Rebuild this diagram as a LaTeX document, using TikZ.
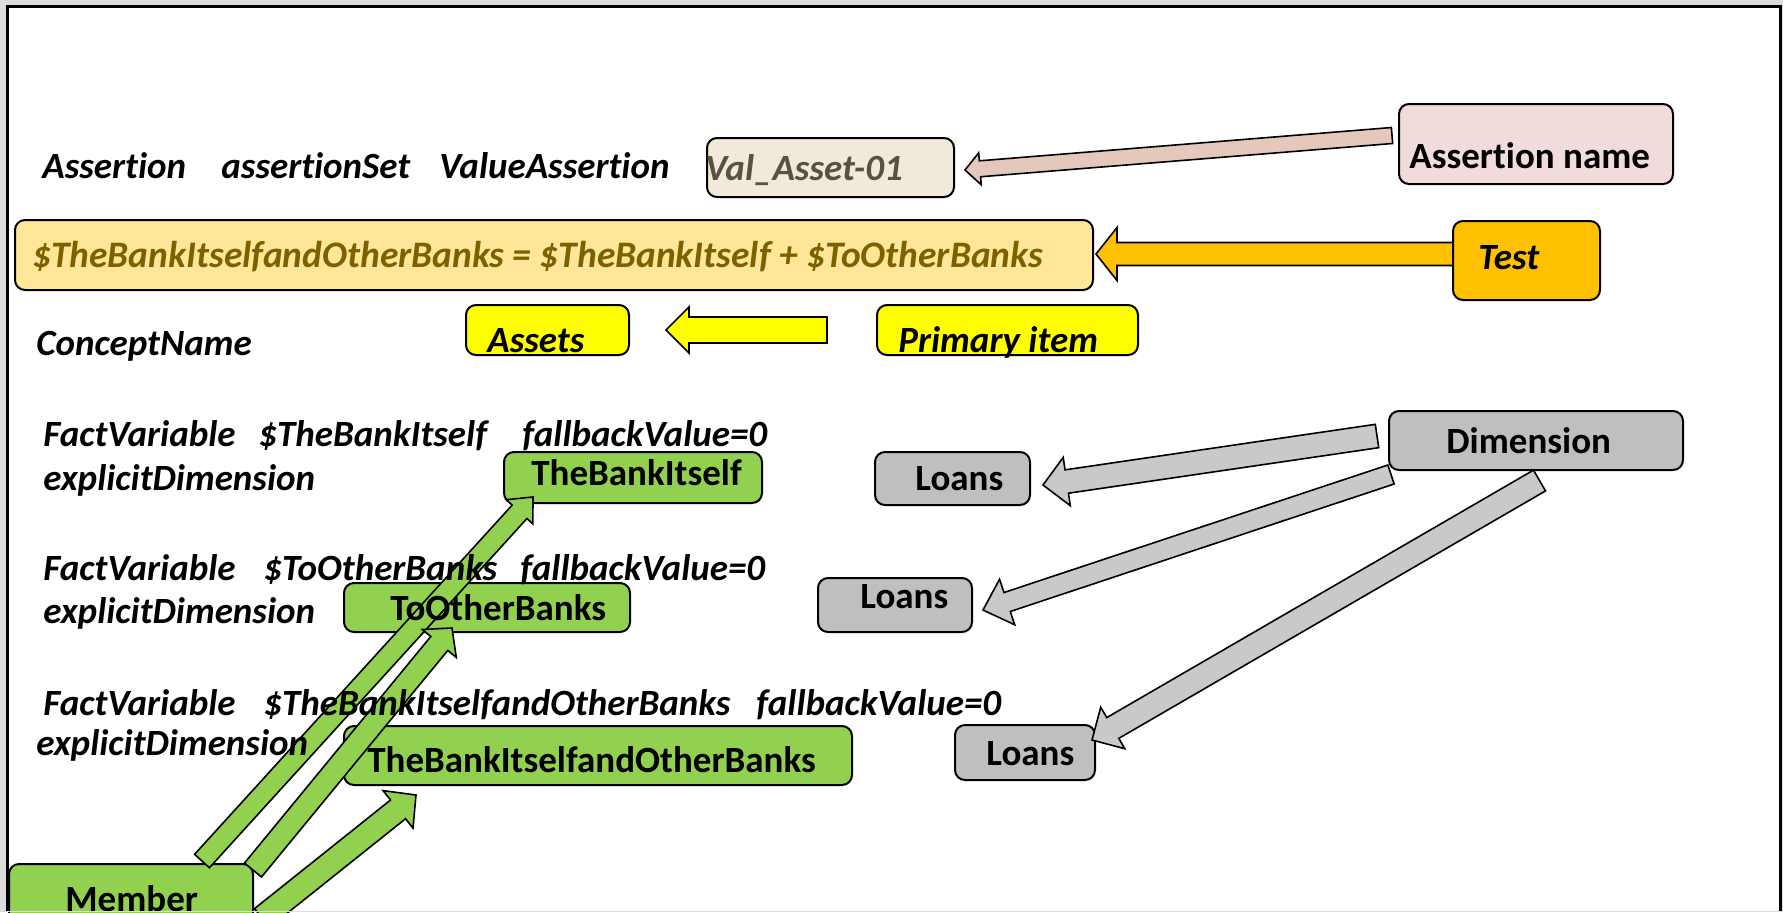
\documentclass[tikz,border=0pt]{standalone}
\usepackage{fontspec}
\setmainfont{Carlito}[RawFeature={-liga;-clig;-dlig;-calt;-hlig}]
\usetikzlibrary{calc,fit}
\definecolor{bgray}{HTML}{DCDCDC}
\definecolor{anfill}{HTML}{F2DCDB}
\definecolor{anarrow}{HTML}{E4C8BC}
\definecolor{valfill}{HTML}{F1E9DA}
\definecolor{valtext}{HTML}{5A5240}
\definecolor{formfill}{HTML}{FFE699}
\definecolor{formtext}{HTML}{7F6000}
\definecolor{testfill}{HTML}{FFC000}
\definecolor{yel}{HTML}{FFFF00}
\definecolor{grn}{HTML}{92D050}
\definecolor{gbox}{HTML}{BFBFBF}
\definecolor{garrow}{HTML}{C9C9C9}
\newcommand\blockarrow[6]{%
  \coordinate (bh) at ($(#2)!#5!(#1)$);
  \draw[#6] ($(#1)!#3!90:(#2)$) -- ($(bh)!#3!90:(#2)$) -- ($(bh)!#4!90:(#2)$) -- (#2)
    -- ($(bh)!#4!-90:(#2)$) -- ($(bh)!#3!-90:(#2)$) -- ($(#1)!#3!-90:(#2)$) -- cycle;}
\newcommand\ti{t\kern0pt i}
\tikzset{
  lbl/.style={anchor=base west, inner sep=0, font=\bfseries\itshape\fontsize{18.5}{22}\selectfont},
  blbl/.style={anchor=base west, inner sep=0, font=\bfseries\fontsize{18.5}{22}\selectfont},
  box/.style={draw=black, line width=1pt, rounded corners=5pt, inner sep=0},
  arr/.style={draw=black, line width=0.8pt, line join=miter}
}
\begin{document}
\begin{tikzpicture}[x=0.5pt,y=-0.5pt]
\useasboundingbox (0,0) rectangle (1783,912);
\clip (0,0) rectangle (1783,912);
\fill[bgray] (0,0) rectangle (1783,912);
\fill[white] (7,6) rectangle (1780,911);
\draw[black, line width=1.5pt] (7,912) -- (7,6) -- (1780,6) -- (1780,912);
% boxes
\node[box, fill=valfill, fit={(707,138)(954,197)}] (val) {};
\node[box, fill=anfill, fit={(1399,104)(1673,184)}] (an) {};
\node[box, fill=formfill, fit={(15,220)(1093,290)}] (form) {};
\node[box, fill=yel, fit={(466,305)(629,355)}] (assets) {};
\node[box, fill=yel, fit={(877,305)(1138,355)}] (prim) {};
\node[box, fill=grn, fit={(504,452)(762,503)}] (tbi) {};
\node[box, fill=grn, fit={(344,583)(630,632)}] (tob) {};
\node[box, fill=grn, fit={(344,726)(852,785)}] (tbio) {};
\node[box, fill=gbox, fit={(875,452)(1030,505)}] (loans1) {};
\node[box, fill=gbox, fit={(818,578)(972,632)}] (loans2) {};
\node[box, fill=gbox, fit={(955,725)(1095,780)}] (loans3) {};
\node[box, fill=gbox, fit={(1389,411)(1683,470)}] (dim) {};
\node[box, fill=grn, fit={(9,864)(253,945)}] (member) {};
% arrow end points
\coordinate (anT) at (1392,135.5);  \coordinate (anH) at (965,170);
\coordinate (teT) at (1453,254);    \coordinate (teH) at (1096,254);
\coordinate (prT) at (827,330);     \coordinate (prH) at (666,330);
\coordinate (d1T) at (1377,436);    \coordinate (d1H) at (1043,485);
\coordinate (d2T) at (1391,474.5);  \coordinate (d2H) at (983,610);
\coordinate (d3T) at (1539.5,480.5);\coordinate (d3H) at (1092,740);
\coordinate (g1T) at (202,861);     \coordinate (g1H) at (533,497);
\coordinate (g2T) at (253,870);     \coordinate (g2H) at (452,628);
\coordinate (g3T) at (262,918);     \coordinate (g3H) at (416,795);
% arrows
\blockarrow{anT}{anH}{4pt}{8pt}{7.5pt}{arr, fill=anarrow}
\blockarrow{teT}{teH}{5.75pt}{13.25pt}{10.5pt}{arr, fill=testfill}
\blockarrow{prT}{prH}{6.5pt}{11.5pt}{11.5pt}{arr, fill=yel}
\blockarrow{d1T}{d1H}{5.9pt}{12.2pt}{12pt}{arr, fill=garrow}
\blockarrow{d2T}{d2H}{5pt}{12pt}{12.7pt}{arr, fill=garrow}
\blockarrow{d3T}{d3H}{6pt}{12pt}{12pt}{arr, fill=garrow}
\blockarrow{g1T}{g1H}{5pt}{9pt}{10pt}{arr, fill=grn}
\blockarrow{g2T}{g2H}{5.5pt}{11pt}{10pt}{arr, fill=grn}
\blockarrow{g3T}{g3H}{6pt}{12pt}{11.5pt}{arr, fill=grn}
\node[box, fill=testfill, fit={(1453,221)(1600,300)}] (test) {};
% texts
\node[lbl] (t1) at (42,178) {Asser\ti on};
\node[lbl] (t2) at (221,178) {asser\ti onSet};
\node[lbl] (t3) at (439,178) {ValueAsser\ti on};
\node[lbl, text=valtext] (valt) at (705,180) {Val\_Asset-01};
\node[blbl] (ant) at (1409,168) {Asser\ti on name};
\node[lbl, text=formtext, font=\bfseries\itshape\fontsize{18.7}{22}\selectfont] (formt) at (32,267) {\$TheBankItselfandOtherBanks = \$TheBankItself + \$ToOtherBanks};
\node[lbl] (testt) at (1478,269) {Test};
\node[lbl] (cn) at (36,355) {ConceptName};
\node[lbl] (assetst) at (487,352) {Assets};
\node[lbl] (primt) at (898,352) {Primary item};
\node[lbl] (f1a) at (43,446) {FactVariable};
\node[lbl] (f1b) at (258,446) {\$TheBankItself};
\node[lbl] (f1c) at (522,446) {fallbackValue=0};
\node[lbl] (e1) at (43,490) {explicitDimension};
\node[blbl] (tbit) at (531,485) {TheBankItself};
\node[blbl] (l1t) at (915,490) {Loans};
\node[blbl] (dimt) at (1446,453) {Dimension};
\node[lbl] (f2a) at (43,580) {FactVariable};
\node[lbl] (f2b) at (263,580) {\$ToOtherBanks};
\node[lbl] (f2c) at (520,580) {fallbackValue=0};
\node[lbl] (e2) at (43,623) {explicitDimension};
\node[blbl] (tobt) at (390,620) {ToOtherBanks};
\node[blbl] (l2t) at (860,608) {Loans};
\node[lbl] (f3a) at (43,715) {FactVariable};
\node[lbl] (f3b) at (263,715) {\$TheBankItselfandOtherBanks};
\node[lbl] (f3c) at (756,715) {fallbackValue=0};
\node[lbl] (e3) at (36,755) {explicitDimension};
\node[blbl] (tbiot) at (367,772) {TheBankItselfandOtherBanks};
\node[blbl] (l3t) at (986,765) {Loans};
\node[blbl] (membert) at (65,911) {Member};
\fill[bgray] (0,910.5) rectangle (1783,912);
\end{tikzpicture}
\end{document}
